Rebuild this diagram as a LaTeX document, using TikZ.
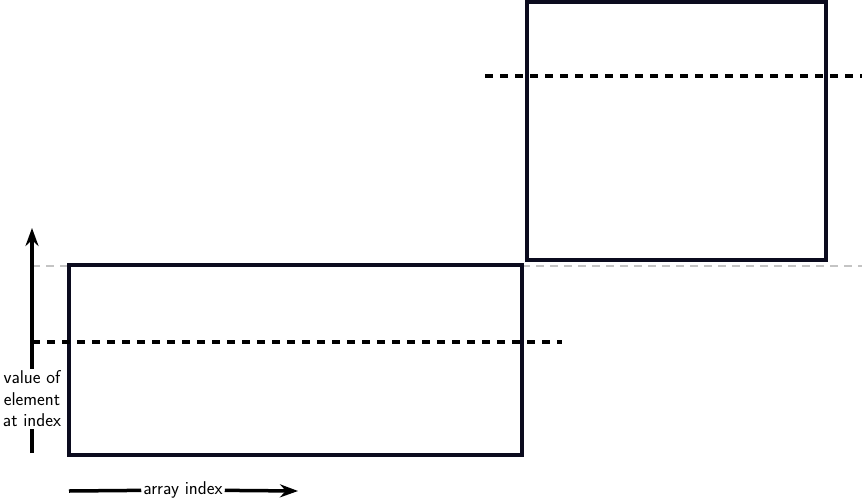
\documentclass[tikz,border=0pt]{standalone}
\usepackage{tikz}
\usetikzlibrary{arrows.meta}
\definecolor{ink}{HTML}{0B0B1E}
\definecolor{guide}{HTML}{C4C4C4}

\tikzset{
  block/.style={draw=ink, line width=3.5pt},
  level/.style={line width=3.5pt, dash pattern=on 8pt off 7pt},
  axis/.style={line width=3.5pt, -{Stealth[length=18pt,width=13pt]}},
  lbl/.style={font=\fontsize{18.5}{21.5}\selectfont\sffamily, fill=white, inner sep=2pt, align=center},
}

\begin{document}
\begin{tikzpicture}[x=1pt,y=-1pt]
  \useasboundingbox (0,0) rectangle (862,501);
  % boundary between the two blocks
  \draw[guide, line width=1.8pt, dash pattern=on 8pt off 6pt] (32,266) -- (862,266);
  \draw[block] (69,265) rectangle (522,455);
  \draw[block] (527,1.8) rectangle (826,260);
  \draw[level] (32,342) -- (562,342);
  \draw[level] (485,76) -- (862,76);
  % axes
  \coordinate (ybot) at (32,453);
  \coordinate (ytop) at (32,228);
  \draw[axis] (ybot) -- (ytop);
  \node[lbl] (ylab) at (32,399) {value of\\element\\at index};
  \coordinate (xbeg) at (69,491);
  \coordinate (xend) at (298,491);
  \node[lbl] (xlab) at (183,490) {array index};
  \draw[line width=3.5pt] (xbeg) -- (xlab);
  \draw[axis] (xlab) -- (xend);
\end{tikzpicture}
\end{document}
